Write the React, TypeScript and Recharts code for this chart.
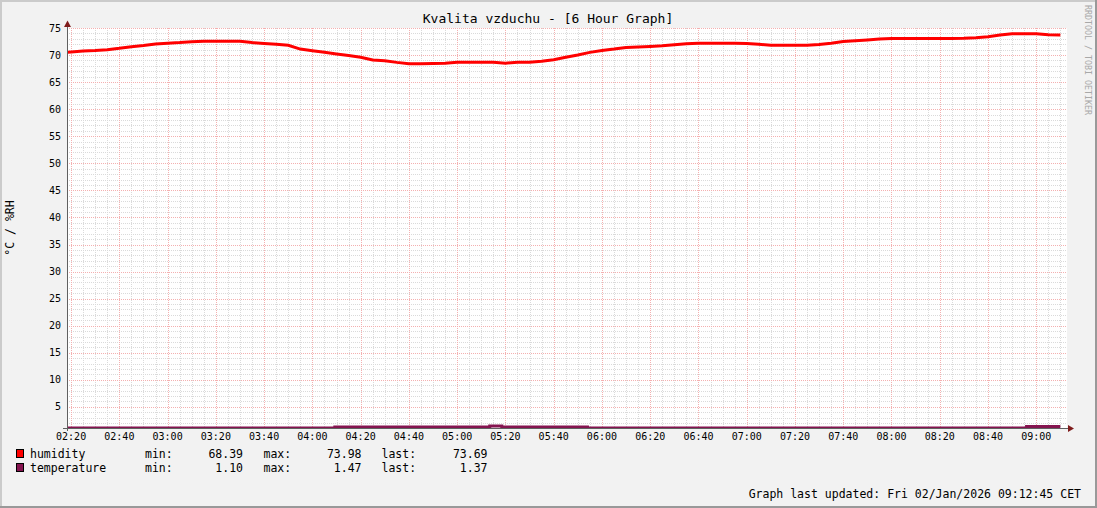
import { CartesianGrid, Line, LineChart, XAxis, YAxis } from 'recharts';

// time in minutes since midnight
const humidityTimes = [
    138.5, 140, 145, 150, 155, 160, 165, 170, 175, 180, 185, 190, 195, 200, 205, 210, 215, 220, 225, 230,
    235, 240, 245, 250, 255, 260, 265, 270, 275, 280, 285, 290, 295, 300, 305, 310, 315, 320, 325, 330,
    335, 340, 345, 350, 355, 360, 365, 370, 375, 380, 385, 390, 395, 400, 405, 410, 415, 420, 425, 430,
    435, 440, 445, 450, 455, 460, 465, 470, 475, 480, 485, 490, 495, 500, 505, 510, 515, 520, 525, 530,
    535, 540, 545, 550,
];
const humidityValues = [
    70.5, 70.55, 70.75, 70.85, 71.0, 71.25, 71.55, 71.75, 72.05, 72.2, 72.3, 72.45, 72.55, 72.55, 72.55, 72.55, 72.3, 72.15, 72.0, 71.8,
    71.1, 70.8, 70.5, 70.2, 69.9, 69.6, 69.1, 68.95, 68.65, 68.4, 68.39, 68.45, 68.5, 68.65, 68.66, 68.66, 68.66, 68.5, 68.66, 68.66,
    68.85, 69.15, 69.6, 70.0, 70.5, 70.85, 71.1, 71.4, 71.5, 71.6, 71.7, 71.9, 72.1, 72.2, 72.2, 72.2, 72.2, 72.15, 72.0, 71.8,
    71.8, 71.8, 71.8, 71.95, 72.2, 72.5, 72.65, 72.8, 72.95, 73.05, 73.05, 73.05, 73.05, 73.05, 73.05, 73.1, 73.2, 73.4, 73.7, 73.95,
    73.95, 73.95, 73.75, 73.69,
];

const temperatureTimes = [138.5, 249.3, 313.5, 318.5, 354, 536, 550];
const temperatureValues = [1.12, 1.3, 1.47, 1.3, 1.12, 1.37, 1.37];

const xTicks = [140, 160, 180, 200, 220, 240, 260, 280, 300, 320, 340, 360, 380, 400, 420, 440, 460, 480, 500, 520, 540];
const yTicks = [5, 10, 15, 20, 25, 30, 35, 40, 45, 50, 55, 60, 65, 70, 75];

const legendRows = [
    { name: 'humidity', color: '#ff0000', min: '68.39', max: '73.98', last: '73.69' },
    { name: 'temperature', color: '#851450', min: '1.10', max: '1.47', last: '1.37' },
];

const xDomain: [number, number] = [138.3, 552.75];
const yDomain: [number, number] = [1.1, 75];

const humidityData = humidityTimes.map((t, i) => ({ t, v: humidityValues[i] }));
const temperatureData = temperatureTimes.map((t, i) => ({ t, v: temperatureValues[i] }));

const minorX: number[] = [];
for (let m = 140; m <= 550; m += 5) if (m % 20 !== 0) minorX.push(m);
const minorY: number[] = [];
for (let v = 2; v <= 74; v += 1) if (v % 5 !== 0) minorY.push(v);

const mono = '"DejaVu Sans Mono", monospace';

const pad = (n: number) => String(n).padStart(2, '0');
const fmtTime = (m: number) => `${pad(Math.floor(m / 60))}:${pad(Math.round(m % 60))}`;

// map values to pixels through the axis scale handed to the grid generator
function scaled(axis: any, values: number[], fallback: (v: number) => number) {
    const s = axis && axis.scale;
    const f = typeof s === 'function' ? s : s && typeof s.map === 'function' ? (v: number) => s.map(v) : null;
    return values.map((v) => {
        const p = f ? f(v) : NaN;
        return Math.round(Number.isFinite(p) ? p : fallback(v));
    });
}

const xGen = (values: number[]) => ({ xAxis, offset }: any) =>
    scaled(xAxis, values, (v) => offset.left + ((v - xDomain[0]) / (xDomain[1] - xDomain[0])) * offset.width);
const yGen = (values: number[]) => ({ yAxis, offset }: any) =>
    scaled(yAxis, values, (v) => offset.top + offset.height - ((v - yDomain[0]) / (yDomain[1] - yDomain[0])) * offset.height);

export default function App() {
    return (
        <div style={{ position: 'relative', width: 1097, height: 508, background: '#f2f2f2' }}>
            <style>{'body{margin:0}'}</style>
            <LineChart
                width={1097}
                height={508}
                margin={{ top: 28, right: 30, left: 27, bottom: 50 }}
            >
                <CartesianGrid
                    fill="#ffffff"
                    stroke="#dadada"
                    strokeDasharray="1 1"
                    shapeRendering="crispEdges"
                    verticalCoordinatesGenerator={xGen(minorX)}
                    horizontalCoordinatesGenerator={yGen(minorY)}
                />
                <CartesianGrid
                    stroke="#f4b0b0"
                    strokeDasharray="1 1"
                    shapeRendering="crispEdges"
                    verticalCoordinatesGenerator={xGen(xTicks)}
                    horizontalCoordinatesGenerator={yGen(yTicks)}
                />
                <XAxis
                    dataKey="t"
                    type="number"
                    domain={xDomain}
                    allowDataOverflow
                    ticks={xTicks}
                    tickFormatter={fmtTime}
                    axisLine={false}
                    tickLine={false}
                    tickSize={0}
                    tickMargin={5}
                    height={30}
                    tick={{ fontFamily: mono, fontSize: 10, fill: '#000' }}
                />
                <YAxis
                    type="number"
                    domain={yDomain}
                    allowDataOverflow
                    ticks={yTicks}
                    axisLine={false}
                    tickLine={false}
                    tickSize={0}
                    tickMargin={6}
                    width={40}
                    tick={{ fontFamily: mono, fontSize: 10, fill: '#000' }}
                />
                <Line
                    data={temperatureData}
                    dataKey="v"
                    type="stepAfter"
                    stroke="#851450"
                    strokeWidth={3}
                    dot={false}
                    isAnimationActive={false}
                />
                <Line
                    data={humidityData}
                    dataKey="v"
                    type="linear"
                    stroke="#ff0000"
                    strokeWidth={3}
                    dot={false}
                    isAnimationActive={false}
                />
            </LineChart>
            <svg
                width={1097}
                height={508}
                style={{ position: 'absolute', left: 0, top: 0, pointerEvents: 'none' }}
                fontFamily={mono}
            >
                {/* frame shades */}
                <rect x={0} y={0} width={1097} height={2} fill="#cbcbcb" />
                <rect x={0} y={0} width={2} height={508} fill="#cbcbcb" />
                <rect x={0} y={506} width={1097} height={2} fill="#999999" />
                <rect x={1095} y={0} width={2} height={508} fill="#999999" />

                {/* axes + arrows */}
                <line x1={63} y1={428.5} x2={1069} y2={428.5} stroke="#606060" strokeWidth={1} />
                <line x1={67.5} y1={431} x2={67.5} y2={24} stroke="#606060" strokeWidth={1} />
                <polygon points="1068,425 1074,428.5 1068,432" fill="#7f1c1c" />
                <polygon points="64,27 67.5,20.5 71,27" fill="#7f1c1c" />

                <text x={548} y={23} textAnchor="middle" fontSize={13} fill="#000">
                    Kvalita vzduchu - [6 Hour Graph]
                </text>
                <text
                    x={10}
                    y={228}
                    fontSize={11.5}
                    textAnchor="middle"
                    dominantBaseline="central"
                    transform="rotate(-90 10 228)"
                    fill="#000"
                >
                    °C / %RH
                </text>
                <text
                    x={1088}
                    y={5}
                    fontSize={8.3}
                    dominantBaseline="central"
                    transform="rotate(90 1088 5)"
                    fill="#a8a8a8"
                >
                    RRDTOOL / TOBI OETIKER
                </text>

                {legendRows.map((row, i) => {
                    const y = 458 + i * 14;
                    return (
                        <g key={row.name} fontSize={11.5} fill="#000">
                            <rect x={16.5} y={y - 8.5} width={7} height={8} fill={row.color} stroke="#000" strokeWidth={1} />
                            <text x={30} y={y}>{row.name}</text>
                            <text x={145} y={y}>min:</text>
                            <text x={243} y={y} textAnchor="end">{row.min}</text>
                            <text x={263.5} y={y}>max:</text>
                            <text x={361.5} y={y} textAnchor="end">{row.max}</text>
                            <text x={381.5} y={y}>last:</text>
                            <text x={487.5} y={y} textAnchor="end">{row.last}</text>
                        </g>
                    );
                })}

                <text x={1081} y={498} textAnchor="end" fontSize={11.5} fill="#000">
                    Graph last updated: Fri 02/Jan/2026 09:12:45 CET
                </text>
            </svg>
        </div>
    );
}
